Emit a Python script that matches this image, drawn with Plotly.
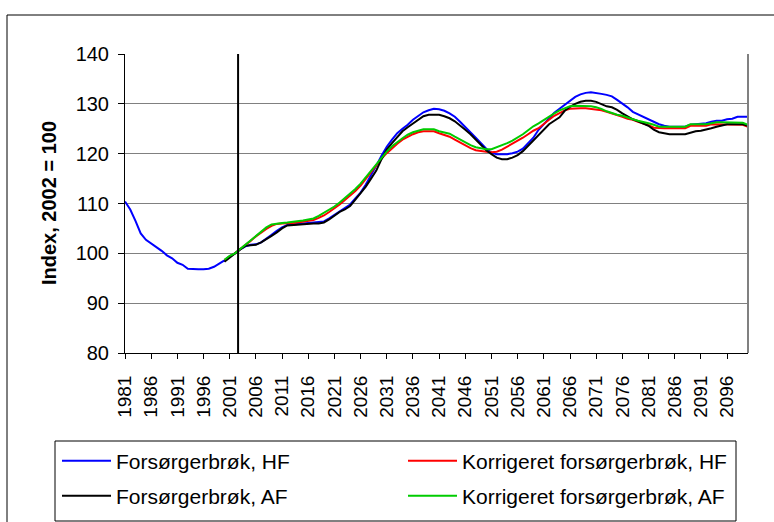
import plotly.graph_objects as go

# ---- data -------------------------------------------------------------
years_hist = list(range(1981, 2101))
years_proj = list(range(2000, 2101))

forsorger_hf = [
    110.4, 108.8, 106.5, 104.0, 102.7, 102.0, 101.2, 100.5, 99.6, 99.0,   # 1981-1990
    98.1, 97.7, 96.9, 96.8, 96.8, 96.8, 96.9, 97.3, 97.9, 98.6,           # 1991-2000
    99.4, 100.0, 100.8, 101.4, 101.7, 101.8, 102.2, 102.9, 103.7, 104.5,  # 2001-2010
    105.2, 105.7, 105.8, 105.8, 105.9, 106.0, 106.1, 106.2, 106.4, 107.0, # 2011-2020
    107.7, 108.4, 109.0, 109.8, 111.0, 112.2, 113.8, 115.6, 117.6, 119.6, # 2021-2030
    121.4, 122.8, 124.1, 125.0, 125.8, 126.8, 127.6, 128.3, 128.7, 129.0, # 2031-2040
    128.9, 128.6, 128.1, 127.4, 126.4, 125.4, 124.3, 123.2, 122.1, 121.0, # 2041-2050
    120.2, 119.9, 119.9, 119.9, 120.1, 120.4, 121.0, 122.0, 123.2, 124.8, # 2051-2060
    126.0, 127.2, 128.2, 129.0, 129.8, 130.6, 131.4, 131.9, 132.2, 132.3, # 2061-2070
    132.2, 132.0, 131.8, 131.5, 130.8, 130.1, 129.3, 128.4, 127.9, 127.4, # 2071-2080
    126.8, 126.4, 125.9, 125.6, 125.4, 125.4, 125.4, 125.4, 125.8, 125.9, # 2081-2090
    125.9, 126.1, 126.4, 126.6, 126.6, 126.9, 127.0, 127.4, 127.4, 127.4, # 2091-2100
]

korrigeret_hf = [
    98.6,                                                                  # 2000
    99.4, 100.0, 100.8, 101.6, 102.5, 103.4, 104.2, 104.9, 105.5, 105.9,  # 2001-2010
    106.0, 106.0, 106.1, 106.2, 106.4, 106.5, 106.7, 107.1, 107.6, 108.3, # 2011-2020
    109.0, 109.8, 110.7, 111.6, 112.5, 113.6, 115.0, 116.3, 117.7, 119.0, # 2021-2030
    120.1, 121.1, 122.0, 122.8, 123.4, 123.9, 124.3, 124.5, 124.5, 124.5, # 2031-2040
    124.1, 123.7, 123.4, 122.8, 122.2, 121.6, 121.1, 120.7, 120.5, 120.4, # 2041-2050
    120.3, 120.4, 120.8, 121.4, 121.9, 122.5, 123.2, 123.9, 124.6, 125.1, # 2051-2060
    126.0, 126.8, 127.6, 128.2, 128.7, 129.0, 129.1, 129.1, 129.1, 129.0, # 2061-2070
    128.9, 128.7, 128.4, 128.1, 127.7, 127.4, 127.0, 126.8, 126.4, 126.1, # 2071-2080
    125.7, 125.2, 125.1, 125.1, 125.1, 125.1, 125.1, 125.1, 125.6, 125.6, # 2081-2090
    125.6, 125.6, 125.9, 125.9, 125.9, 125.9, 125.9, 125.9, 125.8, 125.4, # 2091-2100
]

forsorger_af = [
    98.3,                                                                  # 2000
    99.2, 100.0, 100.8, 101.5, 101.6, 101.7, 102.2, 102.8, 103.5, 104.2,  # 2001-2010
    105.0, 105.6, 105.7, 105.7, 105.8, 105.9, 106.0, 106.0, 106.2, 106.8, # 2011-2020
    107.5, 108.3, 108.8, 109.5, 110.8, 112.0, 113.4, 115.0, 116.6, 118.9, # 2021-2030
    120.8, 122.1, 123.4, 124.5, 125.3, 126.0, 126.7, 127.5, 127.8, 127.8, # 2031-2040
    127.8, 127.5, 127.1, 126.5, 125.7, 124.8, 123.9, 122.8, 121.7, 120.7, # 2041-2050
    119.9, 119.2, 118.9, 118.9, 119.2, 119.7, 120.5, 121.6, 122.7, 123.8, # 2051-2060
    125.0, 125.9, 126.6, 127.3, 128.6, 129.4, 130.0, 130.4, 130.6, 130.6, # 2061-2070
    130.4, 130.0, 129.5, 129.3, 128.8, 128.1, 127.5, 126.9, 126.5, 126.1, # 2071-2080
    125.6, 124.8, 124.3, 124.1, 123.9, 123.9, 123.9, 123.9, 124.2, 124.5, # 2081-2090
    124.6, 124.8, 125.1, 125.4, 125.7, 125.9, 125.9, 125.9, 125.9, 125.6, # 2091-2100
]

korrigeret_af = [
    98.7,                                                                  # 2000
    99.5, 100.0, 100.9, 101.7, 102.7, 103.6, 104.4, 105.2, 105.8, 106.0,  # 2001-2010
    106.1, 106.2, 106.3, 106.4, 106.6, 106.8, 107.0, 107.5, 108.1, 108.7, # 2011-2020
    109.4, 110.2, 111.1, 112.0, 112.9, 114.0, 115.3, 116.6, 118.0, 119.3, # 2021-2030
    120.4, 121.5, 122.4, 123.1, 123.8, 124.3, 124.6, 124.9, 124.9, 124.9, # 2031-2040
    124.5, 124.2, 124.0, 123.4, 122.8, 122.2, 121.7, 121.3, 121.1, 120.9, # 2041-2050
    120.9, 121.3, 121.6, 122.1, 122.6, 123.2, 123.9, 124.7, 125.5, 126.1, # 2051-2060
    126.8, 127.4, 128.1, 128.7, 129.1, 129.5, 129.6, 129.6, 129.6, 129.5, # 2061-2070
    129.3, 129.0, 128.5, 128.1, 127.8, 127.6, 127.2, 126.9, 126.6, 126.4, # 2071-2080
    126.1, 125.8, 125.4, 125.4, 125.4, 125.4, 125.4, 125.4, 125.9, 125.9, # 2081-2090
    125.9, 125.9, 126.1, 126.3, 126.3, 126.3, 126.3, 126.3, 126.2, 125.8, # 2091-2100
]

x_tick_years = list(range(1981, 2100, 5))
y_ticks = [80, 90, 100, 110, 120, 130, 140]
base_year_line = 2002.6

# ---- figure -------------------------------------------------------------
FONT = "Liberation Sans, Arial, sans-serif"
W, H = 774, 522
ML, MR, MT, MB = 125, 26, 54, 169
PW, PH = W - ML - MR, H - MT - MB


def px_to_paper_x(px):
    return (px - ML) / PW


def px_to_paper_y(py):
    return (H - MB - py) / PH


series = [
    ("Forsørgerbrøk, HF", years_hist, forsorger_hf, "#0000FF", "legend"),
    ("Korrigeret forsørgerbrøk, HF", years_proj, korrigeret_hf, "#FF0000", "legend"),
    ("Forsørgerbrøk, AF", years_proj, forsorger_af, "#000000", "legend2"),
    ("Korrigeret forsørgerbrøk, AF", years_proj, korrigeret_af, "#00CC00", "legend2"),
]

fig = go.Figure()
for name, xs, ys, color, leg in series:
    fig.add_trace(go.Scatter(
        x=xs, y=ys, mode="lines", name=name, legend=leg,
        line=dict(color=color, width=2),
        hoverinfo="skip",
    ))

legend_common = dict(
    orientation="h",
    xanchor="left",
    yanchor="middle",
    x=px_to_paper_x(57),
    bgcolor="rgba(0,0,0,0)",
    borderwidth=0,
    itemwidth=49,
    entrywidth=282,
    entrywidthmode="pixels",
    font=dict(family=FONT, size=21, color="#000000"),
    itemclick=False,
    itemdoubleclick=False,
)

fig.update_layout(
    width=W, height=H,
    margin=dict(l=ML, r=MR, t=MT, b=MB, autoexpand=False),
    paper_bgcolor="#FFFFFF",
    plot_bgcolor="#FFFFFF",
    font=dict(family=FONT, size=20, color="#000000"),
    showlegend=True,
    legend=dict(**legend_common, y=px_to_paper_y(461)),
    legend2=dict(**legend_common, y=px_to_paper_y(496)),
    xaxis=dict(
        range=[1981, 2100],
        tickmode="array",
        tickvals=x_tick_years,
        ticktext=[str(y) for y in x_tick_years],
        tickangle=-90,
        ticks="outside", ticklen=5, tickcolor="#000000", tickwidth=1,
        ticklabelstandoff=9,
        showline=True, linecolor="#000000", linewidth=1,
        showgrid=False, zeroline=False,
        tickfont=dict(family=FONT, size=19, color="#000000"),
    ),
    yaxis=dict(
        range=[80, 140],
        tickmode="array",
        tickvals=y_ticks,
        ticks="outside", ticklen=6, tickcolor="#000000", tickwidth=1,
        ticklabelstandoff=5,
        showline=True, linecolor="#000000", linewidth=1,
        showgrid=True, gridcolor="#808080", gridwidth=1,
        zeroline=False,
        tickfont=dict(family=FONT, size=20, color="#000000"),
    ),
    annotations=[dict(
        text="<b>Index, 2002 = 100</b>",
        textangle=-90,
        xref="paper", yref="paper",
        x=px_to_paper_x(48.5), y=0.5,
        xanchor="center", yanchor="middle",
        showarrow=False,
        font=dict(family=FONT, size=20, color="#000000"),
    )],
    shapes=[
        # base-year marker line
        dict(type="line", xref="x", yref="y",
             x0=base_year_line, x1=base_year_line, y0=80, y1=140,
             line=dict(color="#000000", width=2)),
        # right edge of the plot area
        dict(type="line", xref="paper", yref="paper",
             x0=1, x1=1, y0=0, y1=1,
             line=dict(color="#808080", width=2)),
        # legend frame
        dict(type="rect", xref="paper", yref="paper",
             x0=px_to_paper_x(55), x1=px_to_paper_x(736),
             y0=px_to_paper_y(521), y1=px_to_paper_y(441),
             line=dict(color="#000000", width=1)),
        # chart frame
        dict(type="rect", xref="paper", yref="paper",
             x0=px_to_paper_x(7), x1=px_to_paper_x(790),
             y0=px_to_paper_y(540), y1=px_to_paper_y(15),
             line=dict(color="#000000", width=1)),
    ],
)

fig.write_html("out.html")
